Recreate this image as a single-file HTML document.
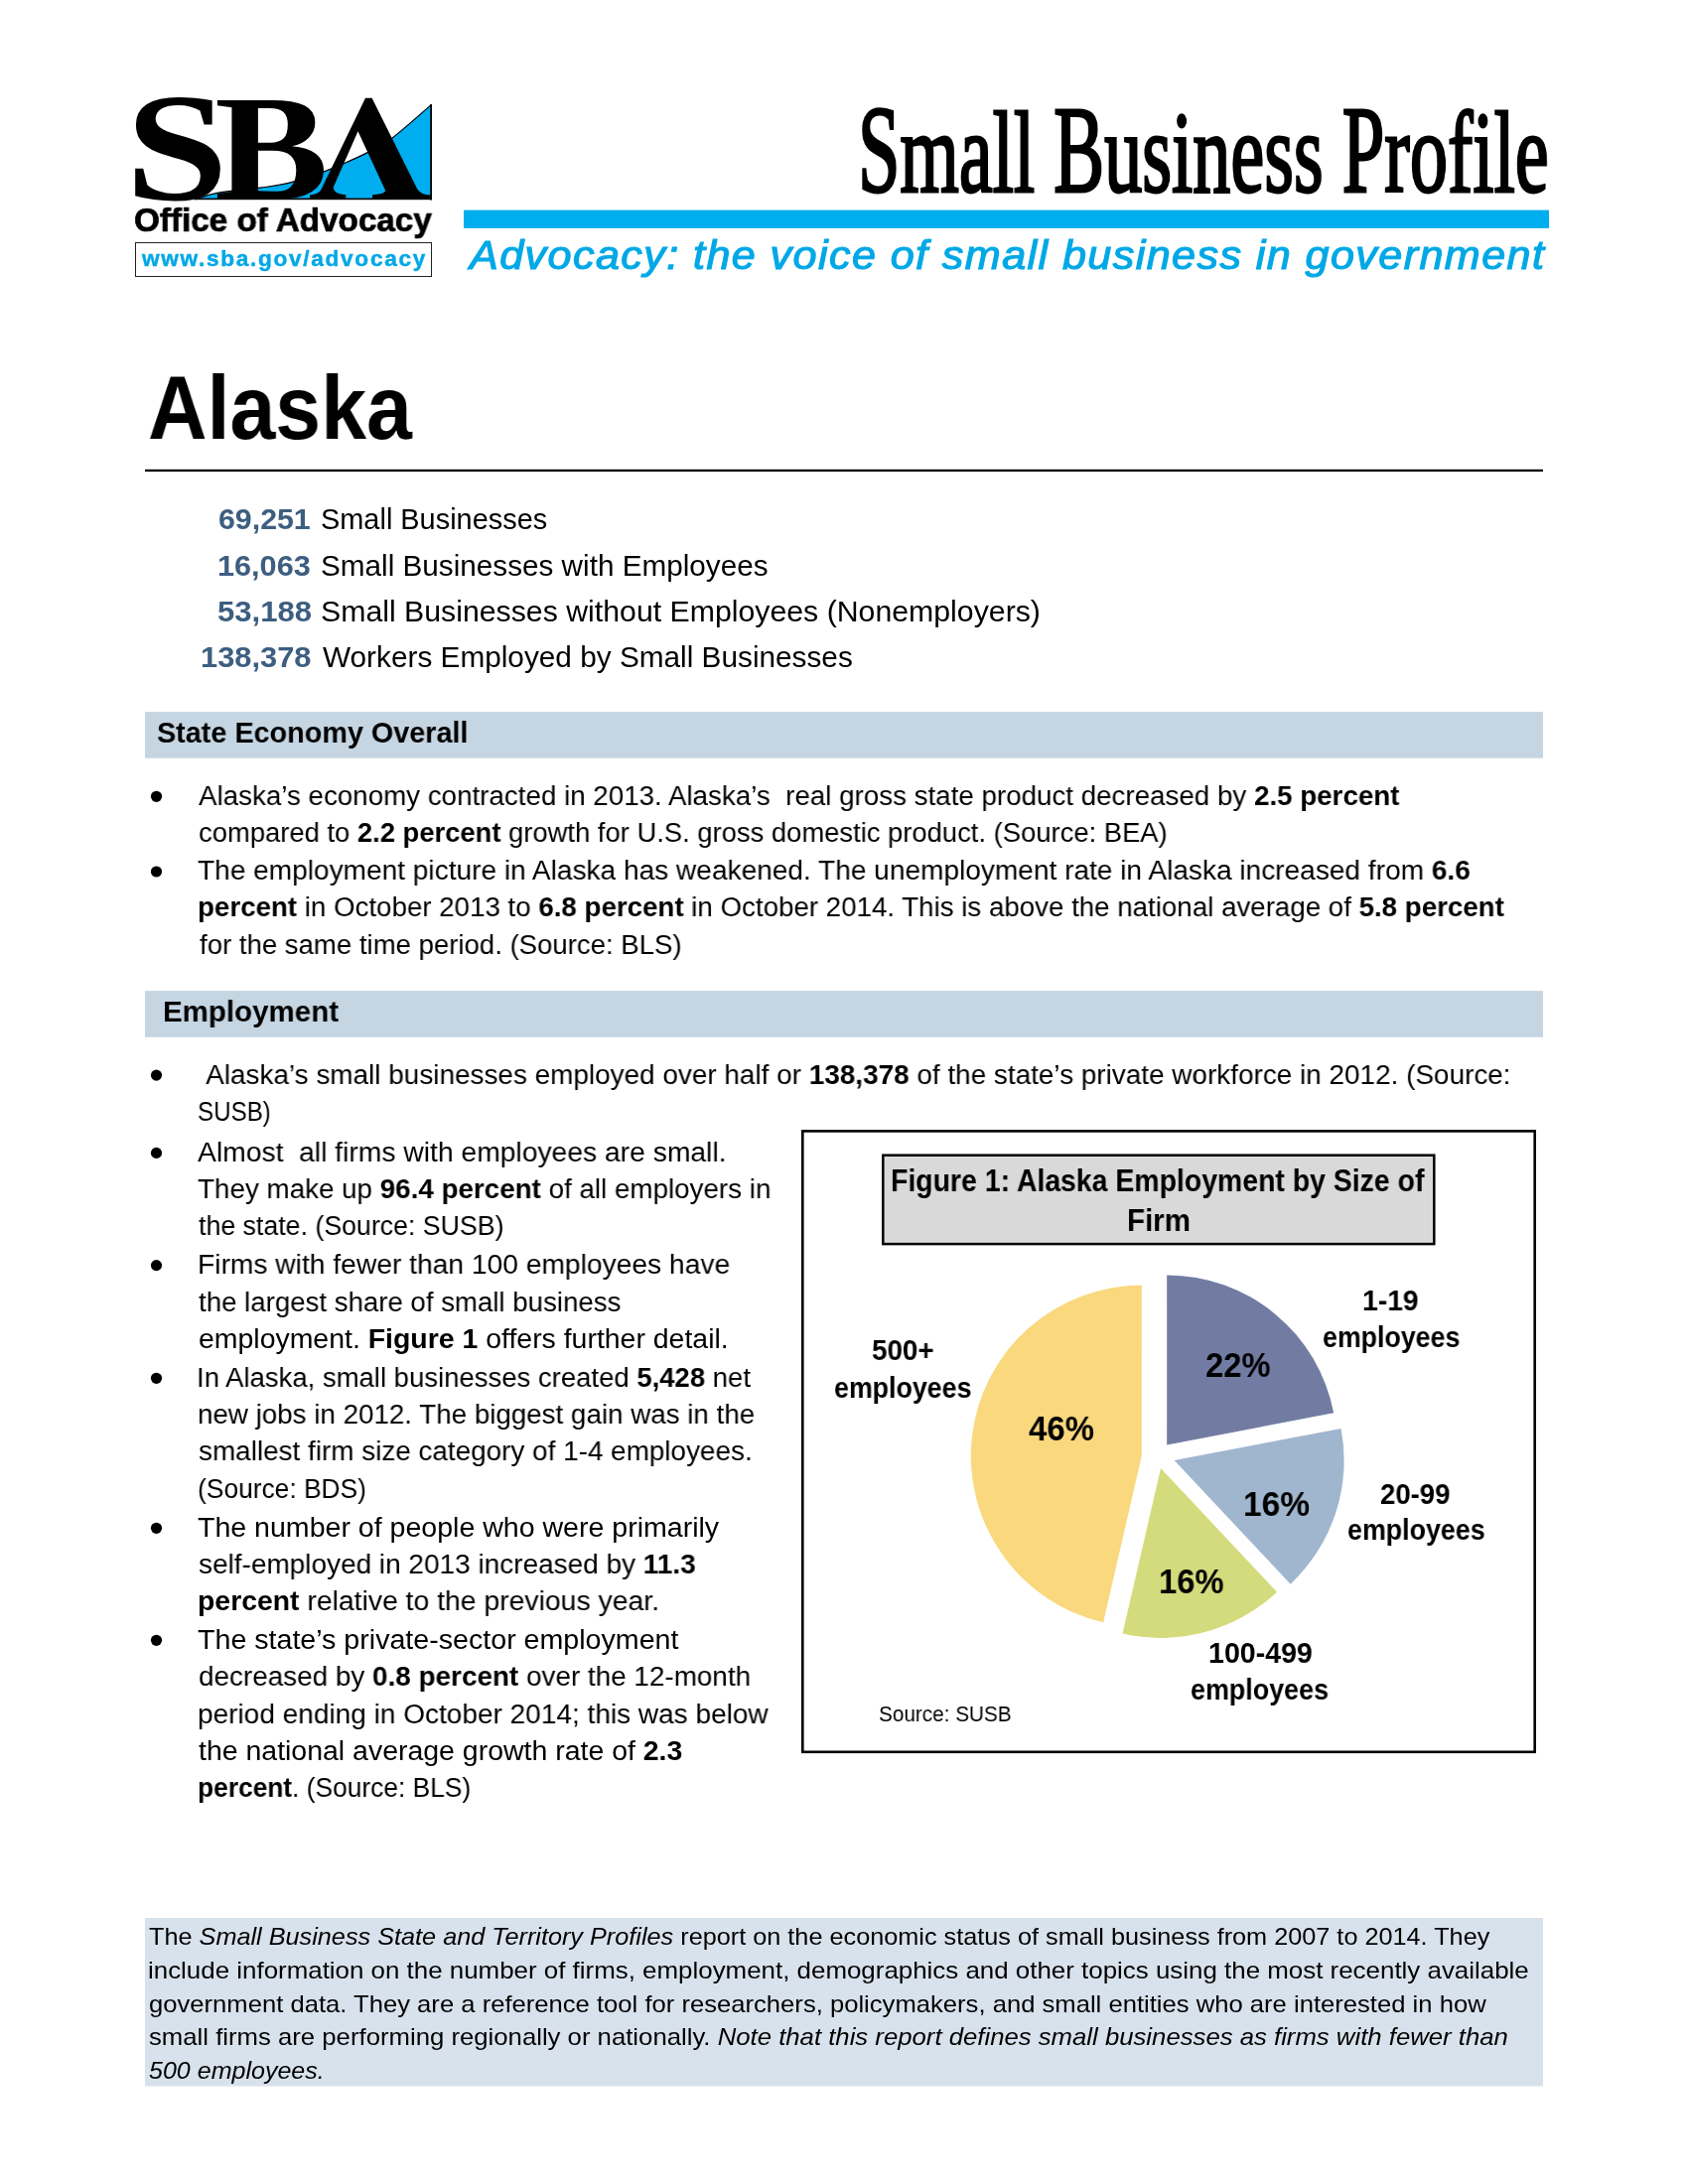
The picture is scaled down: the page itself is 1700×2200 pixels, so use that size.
<!DOCTYPE html><html><head><meta charset="utf-8"><title>Alaska Small Business Profile</title><style>
html,body{margin:0;padding:0;background:#fff;}
body{width:1700px;height:2200px;overflow:hidden;position:relative;font-family:"Liberation Sans",sans-serif;color:#000}
.t,.tb,.serif,.tag{position:absolute;white-space:pre;line-height:1;transform-origin:0 0;font-family:"Liberation Sans",sans-serif;will-change:transform}
.tb{font-weight:bold}
.num{color:#3d5e80}
.url{color:#00a8e6;letter-spacing:1.6px;-webkit-text-stroke:0.4px #00a8e6}
.office{-webkit-text-stroke:0.7px #000}
.serif{font-family:"Liberation Serif",serif;font-weight:normal;-webkit-text-stroke:2.8px #000}
.tag{font-style:italic;font-weight:normal;color:#00a8e6;letter-spacing:1.3px;-webkit-text-stroke:1.1px #00a8e6}
.box{position:absolute}
.cap{display:inline-block;transform:scaleY(1.07);transform-origin:0 99px}
.dot{position:absolute;width:11px;height:11px;border-radius:50%;background:#000}
</style></head><body>
<svg class="box" style="left:0;top:0" width="1700" height="2200" viewBox="0 0 1700 2200">
<path d="M196.0,201.0 C199.8,199.9 207.6,196.3 218.9,194.3 C230.2,192.3 251.5,190.7 263.9,188.9 C276.3,187.1 283.2,186.2 293.5,183.6 C303.8,181.0 317.0,176.2 325.8,173.1 C334.6,169.9 338.6,168.0 346.2,164.7 C353.8,161.4 363.0,157.4 371.1,153.1 C379.2,148.8 384.6,146.8 395.1,138.9 C405.6,131.0 427.7,111.1 434.2,105.6 L434.2,201 Z" fill="#00aeef"/>
<path d="M196.0,201.0 C199.8,199.9 207.6,196.3 218.9,194.3 C230.2,192.3 251.5,190.7 263.9,188.9 C276.3,187.1 283.2,186.2 293.5,183.6 C303.8,181.0 317.0,176.2 325.8,173.1 C334.6,169.9 338.6,168.0 346.2,164.7 C353.8,161.4 363.0,157.4 371.1,153.1 C379.2,148.8 384.6,146.8 395.1,138.9 C405.6,131.0 427.7,111.1 434.2,105.6" fill="none" stroke="#000" stroke-width="1.2"/>
<rect x="433.2" y="105" width="1.8" height="96.5" fill="#000"/>
<rect x="196" y="199.6" width="239" height="1.6" fill="#000"/>
<path d="M136.2 169.87H144.19L148.27 186.2Q152.09 189.92 159.8 192.42Q167.52 194.93 175.78 194.93Q201.83 194.93 201.83 177.01Q201.83 171.39 196.88 167.51Q191.94 163.64 181.31 160.6Q165.7 156.27 158.85 153.58Q151.99 150.88 147.27 147.24Q142.55 143.59 139.74 138.39Q136.93 133.19 136.93 125.59Q136.93 112.15 147.86 105.12Q158.8 98.1 179.86 98.1Q195.11 98.1 213.63 101.37V125.59H205.55L201.47 111.62Q192.21 106 179.86 106Q168.7 106 162.71 109.45Q156.71 112.91 156.71 120.05Q156.71 125.14 161.71 128.74Q166.7 132.35 177.32 135.16Q198.11 140.86 205.87 145.07Q213.63 149.29 217.72 155.51Q221.8 161.74 221.8 170.17Q221.8 202.6 176.14 202.6Q165.7 202.6 154.85 201.12Q144.01 199.64 136.2 197.21Z" fill="#000"/>
<path d="M289.8 125.45Q289.8 116.77 285.55 112.91Q281.31 109.06 271.57 109.06H259.89V143.69H272.24Q281.23 143.69 285.51 139.54Q289.8 135.39 289.8 125.45ZM298.28 171.36Q298.28 161.49 292.69 156.67Q287.11 151.85 274.42 151.85H259.89V192.2Q271.99 192.64 278.96 192.64Q288.79 192.64 293.53 187.38Q298.28 182.11 298.28 171.36ZM218.9 200.36V194.94L233.43 192.94V108.24L218.9 106.31V100.9H273.58Q296.01 100.9 306.68 106.2Q317.35 111.51 317.35 123.37Q317.35 132.27 311.05 138.72Q304.75 145.18 294.16 147.18Q309.87 148.59 317.94 154.71Q326 160.83 326 171.36Q326 185.82 313.9 193.31Q301.81 200.8 279.21 200.8L240.91 200.36Z" fill="#000"/>
<path d="M368.0,98.7 L374.6,98.7 L420.3,190.4 Q424.5,196.2 432.7,196.5 L434.4,196.5 L434.4,200.6 L375.1,200.6 L375.1,196.2 Q386.5,195.6 388.3,192.2 L360.5,132.3 L335.7,188.7 Q336.2,195.6 348.3,196.2 L348.3,200.6 L312.0,200.6 L312.0,196.4 Q321.5,195.6 323.6,190.4 Z" fill="#000"/>
<rect x="136.5" y="244.5" width="298" height="34" fill="none" stroke="#222" stroke-width="1"/>
<rect x="467" y="211.6" width="1093" height="18.3" fill="#00aeef"/>
<rect x="146" y="472.8" width="1408" height="2.3" fill="#000"/>
<rect x="146" y="717.1" width="1408" height="46.6" fill="#c5d5e2"/>
<rect x="146" y="998.1" width="1408" height="46.7" fill="#c5d5e2"/>
<rect x="146" y="1932" width="1408" height="169.5" fill="#d8e2ec"/>
<rect x="808.3" y="1139.4" width="737.4" height="625.4" fill="#fff" stroke="#000" stroke-width="2.6"/>
<rect x="889.3" y="1163.7" width="555" height="89.4" fill="#d9d9d9" stroke="#000" stroke-width="2.5"/>
<path d="M1175.20,1455.40 L1175.20,1284.40 A171.00,171.00 0 0 1 1343.17,1423.36 Z" fill="#727ca3"/>
<path d="M1182.60,1471.00 L1350.57,1438.96 A171.00,171.00 0 0 1 1299.66,1595.65 Z" fill="#a0b6ce"/>
<path d="M1169.00,1479.00 L1286.06,1603.65 A171.00,171.00 0 0 1 1130.53,1645.62 Z" fill="#d4db7c"/>
<path d="M1149.80,1466.60 L1111.11,1634.19 A172.00,172.00 0 0 1 1149.80,1294.60 Z" fill="#f9d87e"/>
<circle cx="157.5" cy="802.3" r="5.6" fill="#000"/>
<circle cx="157.5" cy="878.0" r="5.6" fill="#000"/>
<circle cx="157.5" cy="1083.1" r="5.6" fill="#000"/>
<circle cx="157.5" cy="1161.4" r="5.6" fill="#000"/>
<circle cx="157.5" cy="1274.6" r="5.6" fill="#000"/>
<circle cx="157.5" cy="1388.3" r="5.6" fill="#000"/>
<circle cx="157.5" cy="1539.3" r="5.6" fill="#000"/>
<circle cx="157.5" cy="1652.3" r="5.6" fill="#000"/>
</svg>
<div id="alaska" class="tb" style="left:148.79px;top:365.45px;font-size:91.00px;transform:scaleX(0.9062)">Alaska</div>
<div id="num0" class="tb num" style="left:220.16px;top:509.42px;font-size:28.80px;transform:scaleX(1.0523)">69,251</div>
<div id="stat0" class="t" style="left:323.48px;top:509.42px;font-size:28.80px;transform:scaleX(1.0041)">Small Businesses</div>
<div id="num1" class="tb num" style="left:219.12px;top:555.62px;font-size:28.80px;transform:scaleX(1.0645)">16,063</div>
<div id="stat1" class="t" style="left:323.49px;top:555.62px;font-size:28.80px;transform:scaleX(1.0312)">Small Businesses with Employees</div>
<div id="num2" class="tb num" style="left:219.10px;top:601.82px;font-size:28.80px;transform:scaleX(1.0787)">53,188</div>
<div id="stat2" class="t" style="left:323.49px;top:601.82px;font-size:28.80px;transform:scaleX(1.0509)">Small Businesses without Employees (Nonemployers)</div>
<div id="num3" class="tb num" style="left:201.72px;top:648.02px;font-size:28.80px;transform:scaleX(1.0704)">138,378</div>
<div id="stat3" class="t" style="left:324.50px;top:648.02px;font-size:28.80px;transform:scaleX(1.0337)">Workers Employed by Small Businesses</div>
<div id="h1" class="tb" style="left:157.89px;top:723.47px;font-size:29.80px;transform:scaleX(0.9657)">State Economy Overall</div>
<div id="h2" class="tb" style="left:163.76px;top:1004.47px;font-size:29.80px;transform:scaleX(0.9902)">Employment</div>
<div id="s1_0" class="t" style="left:199.50px;top:786.75px;font-size:28.40px;transform:scaleX(0.9771)">Alaska&rsquo;s economy contracted in 2013. Alaska&rsquo;s&nbsp; real gross state product decreased by <b>2.5 percent</b></div>
<div id="s1_1" class="t" style="left:199.50px;top:823.65px;font-size:28.40px;transform:scaleX(0.9646)">compared to <b>2.2 percent</b> growth for U.S. gross domestic product. (Source: BEA)</div>
<div id="s1_2" class="t" style="left:199.00px;top:862.45px;font-size:28.40px;transform:scaleX(0.9885)">The employment picture in Alaska has weakened. The unemployment rate in Alaska increased from <b>6.6</b></div>
<div id="s1_3" class="t" style="left:198.50px;top:899.35px;font-size:28.40px;transform:scaleX(0.9755)"><b>percent</b> in October 2013 to <b>6.8 percent</b> in October 2014. This is above the national average of <b>5.8 percent</b></div>
<div id="s1_4" class="t" style="left:201.00px;top:937.45px;font-size:28.40px;transform:scaleX(0.9708)">for the same time period. (Source: BLS)</div>
<div id="s2_0" class="t" style="left:200.85px;top:1067.55px;font-size:28.40px;transform:scaleX(0.9829)"> Alaska&rsquo;s small businesses employed over half or <b>138,378</b> of the state&rsquo;s private workforce in 2012. (Source:</div>
<div id="s2_1" class="t" style="left:198.94px;top:1104.75px;font-size:28.40px;transform:scaleX(0.8494)">SUSB)</div>
<div id="s2_2" class="t" style="left:199.49px;top:1145.85px;font-size:28.40px;transform:scaleX(0.9956)">Almost&nbsp; all firms with employees are small.</div>
<div id="s2_3" class="t" style="left:199.00px;top:1182.95px;font-size:28.40px;transform:scaleX(0.9783)">They make up <b>96.4 percent</b> of all employers in</div>
<div id="s2_4" class="t" style="left:200.00px;top:1219.75px;font-size:28.40px;transform:scaleX(0.9414)">the state. (Source: SUSB)</div>
<div id="s2_5" class="t" style="left:198.99px;top:1259.05px;font-size:28.40px;transform:scaleX(0.9934)">Firms with fewer than 100 employees have</div>
<div id="s2_6" class="t" style="left:199.99px;top:1296.65px;font-size:28.40px;transform:scaleX(0.9730)">the largest share of small business</div>
<div id="s2_7" class="t" style="left:199.99px;top:1333.75px;font-size:28.40px;transform:scaleX(1.0016)">employment. <b>Figure 1</b> offers further detail.</div>
<div id="s2_8" class="t" style="left:197.99px;top:1372.75px;font-size:28.40px;transform:scaleX(0.9686)">In Alaska, small businesses created <b>5,428</b> net</div>
<div id="s2_9" class="t" style="left:198.99px;top:1409.75px;font-size:28.40px;transform:scaleX(0.9776)">new jobs in 2012. The biggest gain was in the</div>
<div id="s2_10" class="t" style="left:199.99px;top:1447.45px;font-size:28.40px;transform:scaleX(0.9817)">smallest firm size category of 1-4 employees.</div>
<div id="s2_11" class="t" style="left:198.96px;top:1485.05px;font-size:28.40px;transform:scaleX(0.9289)">(Source: BDS)</div>
<div id="s2_12" class="t" style="left:199.00px;top:1523.75px;font-size:28.40px;transform:scaleX(1.0054)">The number of people who were primarily</div>
<div id="s2_13" class="t" style="left:200.00px;top:1560.55px;font-size:28.40px;transform:scaleX(0.9851)">self-employed in 2013 increased by <b>11.3</b></div>
<div id="s2_14" class="t" style="left:198.98px;top:1597.95px;font-size:28.40px;transform:scaleX(0.9988)"><b>percent</b> relative to the previous year.</div>
<div id="s2_15" class="t" style="left:199.00px;top:1636.75px;font-size:28.40px;transform:scaleX(1.0077)">The state&rsquo;s private-sector employment</div>
<div id="s2_16" class="t" style="left:199.99px;top:1674.35px;font-size:28.40px;transform:scaleX(0.9815)">decreased by <b>0.8 percent</b> over the 12-month</div>
<div id="s2_17" class="t" style="left:198.99px;top:1711.75px;font-size:28.40px;transform:scaleX(0.9868)">period ending in October 2014; this was below</div>
<div id="s2_18" class="t" style="left:200.00px;top:1748.85px;font-size:28.40px;transform:scaleX(1.0025)">the national average growth rate of <b>2.3</b></div>
<div id="s2_19" class="t" style="left:198.98px;top:1785.85px;font-size:28.40px;transform:scaleX(0.9275)"><b>percent</b>. (Source: BLS)</div>
<div id="ft0" class="t" style="left:150.20px;top:1939.05px;font-size:23.80px;transform:scaleX(1.0612)">The <i>Small Business State and Territory Profiles</i> report on the economic status of small business from 2007 to 2014. They</div>
<div id="ft1" class="t" style="left:149.19px;top:1972.95px;font-size:23.80px;transform:scaleX(1.0884)">include information on the number of firms, employment, demographics and other topics using the most recently available</div>
<div id="ft2" class="t" style="left:150.20px;top:2006.55px;font-size:23.80px;transform:scaleX(1.0766)">government data. They are a reference tool for researchers, policymakers, and small entities who are interested in how</div>
<div id="ft3" class="t" style="left:150.20px;top:2040.25px;font-size:23.80px;transform:scaleX(1.0807)">small firms are performing regionally or nationally. <i>Note that this report defines small businesses as firms with fewer than</i></div>
<div id="ft4" class="t" style="left:150.17px;top:2074.05px;font-size:23.80px;transform:scaleX(1.0519)"><i>500 employees.</i></div>
<div id="ftitle1" class="tb" style="left:896.79px;top:1174.18px;font-size:30.50px;transform:scaleX(0.9317)">Figure 1: Alaska Employment by Size of</div>
<div id="ftitle2" class="tb" style="left:1134.59px;top:1213.78px;font-size:30.50px;transform:scaleX(0.9677)">Firm</div>
<div id="p22" class="tb" style="left:1214.29px;top:1356.77px;font-size:35.00px;transform:scaleX(0.9338)">22%</div>
<div id="p46" class="tb" style="left:1036.18px;top:1420.77px;font-size:35.00px;transform:scaleX(0.9407)">46%</div>
<div id="p16a" class="tb" style="left:1251.91px;top:1497.17px;font-size:35.00px;transform:scaleX(0.9565)">16%</div>
<div id="p16b" class="tb" style="left:1167.46px;top:1575.07px;font-size:35.00px;transform:scaleX(0.9344)">16%</div>
<div id="c1a" class="tb" style="left:1372.40px;top:1295.78px;font-size:28.60px;transform:scaleX(0.9889)">1-19</div>
<div id="c1b" class="tb" style="left:1332.18px;top:1332.68px;font-size:28.60px;transform:scaleX(0.9355)">employees</div>
<div id="c2a" class="tb" style="left:1389.77px;top:1490.68px;font-size:28.60px;transform:scaleX(0.9628)">20-99</div>
<div id="c2b" class="tb" style="left:1356.89px;top:1527.18px;font-size:28.60px;transform:scaleX(0.9376)">employees</div>
<div id="c3a" class="tb" style="left:1216.55px;top:1651.28px;font-size:28.60px;transform:scaleX(0.9982)">100-499</div>
<div id="c3b" class="tb" style="left:1199.38px;top:1687.78px;font-size:28.60px;transform:scaleX(0.9402)">employees</div>
<div id="c4a" class="tb" style="left:877.96px;top:1346.38px;font-size:28.60px;transform:scaleX(0.9717)">500+</div>
<div id="c4b" class="tb" style="left:840.18px;top:1384.28px;font-size:28.60px;transform:scaleX(0.9362)">employees</div>
<div id="src" class="t" style="left:885.29px;top:1715.83px;font-size:22.40px;transform:scaleX(0.9253)">Source: SUSB</div>
<div id="title" class="serif" style="left:864.46px;top:94.72px;font-size:117.00px;transform:scaleX(0.6525)"><span class="cap">S</span>mall <span class="cap">B</span>usiness <span class="cap">P</span>rofile</div>
<div id="tag" class="tag" style="left:472.99px;top:238.30px;font-size:39.80px;transform:scaleX(1.0836)">Advocacy: the voice of small business in government</div>
<div id="office" class="tb office" style="left:135.00px;top:204.82px;font-size:33.40px;transform:scaleX(0.9951)">Office of Advocacy</div>
<div id="url" class="tb url" style="left:142.50px;top:251.08px;font-size:21.40px;transform:scaleX(1.0576)">www.sba.gov/advocacy</div>
</body></html>
